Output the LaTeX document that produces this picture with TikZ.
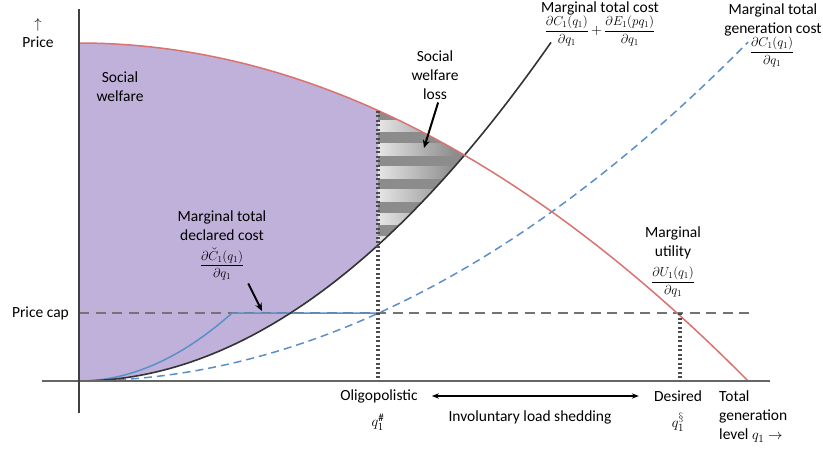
\documentclass[tikz,border=0pt]{standalone}
\usepackage{amsmath}
\usepackage{graphicx}
\usepackage{fontspec}
\setmainfont{Carlito}
\usetikzlibrary{arrows.meta}

\DeclareMathSizes{13.5}{13.5}{10}{8}
\DeclareMathSizes{15.5}{15.5}{11}{8}

\definecolor{welfare}{RGB}{191,177,218}
\definecolor{utility}{RGB}{218,114,112}
\definecolor{gencost}{RGB}{91,143,201}
\definecolor{axisgray}{RGB}{64,64,64}

\newcommand{\pfrac}[2]{\scalebox{0.9}{$\dfrac{\partial #1}{\partial #2}$}}

\tikzset{
    lbl/.style={align=center, inner sep=0pt, font=\fontsize{15.5}{19}\selectfont},
    fracbl/.style={inner sep=0pt, font=\fontsize{13.5}{15}\selectfont},
    pointer/.style={-{Stealth[length=8pt,width=7pt]}, line width=2pt, black},
    vdots/.style={line width=3.5pt, black!70, dash pattern=on 2pt off 2.5pt},
    capline/.style={line width=1.5pt, black!55, dash pattern=on 10pt off 6.5pt},
}

\begin{document}
\begin{tikzpicture}[x=1pt, y=-1pt]
    \useasboundingbox (0,0) rectangle (823,451);

    % Curves, in pixels of the slide: y(x) = y0 +- k*((x-79)/100)^2
    \def\ku{7.55}   % marginal utility
    \def\kg{7.57}   % marginal generation cost
    \def\kt{15.2}   % marginal total cost
    \def\kd{29}     % marginal declared cost
    \def\xh{378}    % oligopolistic q
    \def\xs{464.5}  % crossing utility / total cost
    \def\xd{680}    % desired q
    \def\ycap{313}  % price cap

    % Social welfare
    \fill[welfare] plot[domain=79:\xh, samples=60] (\x, {381-\kt*((\x-79)/100)^2})
        -- plot[domain=\xh:79, samples=60] (\x, {43+\ku*((\x-79)/100)^2}) -- cycle;

    % Social welfare loss (stripes)
    \begin{scope}
        \clip plot[domain=\xh:\xs, samples=30] (\x, {381-\kt*((\x-79)/100)^2})
            -- plot[domain=\xs:\xh, samples=30] (\x, {43+\ku*((\x-79)/100)^2}) -- cycle;
        \fill[black!45] (\xh,100) rectangle (470,250);
        \foreach \y in {120,143.3,...,240}
            \shade[left color=white!90!black, right color=black!45] (\xh,\y) rectangle (455,\y+11.7);
    \end{scope}

    % Price cap
    \draw[capline] (79,\ycap) -- (750,\ycap);

    % Marginal generation cost
    \draw[gencost, line width=1.5pt, dash pattern=on 8pt off 5pt]
        plot[domain=79:748, samples=80] (\x, {381-\kg*((\x-79)/100)^2});
    % Marginal declared cost
    \draw[gencost, line width=1.5pt] plot[domain=79:232, samples=40] (\x, {381-\kd*((\x-79)/100)^2})
        -- (\xh,\ycap);
    % Marginal total cost
    \draw[black!80, line width=1.6pt] plot[domain=79:551, samples=80] (\x, {381-\kt*((\x-79)/100)^2});
    % Marginal utility
    \draw[utility, line width=1.5pt] plot[domain=79:748, samples=80] (\x, {43+\ku*((\x-79)/100)^2});

    % Quantities
    \draw[vdots] (\xh,{43+\ku*((\xh-79)/100)^2}) -- (\xh,381);
    \draw[vdots] (\xd,\ycap) -- (\xd,381);

    % Axes
    \draw[axisgray!80, line width=1.2pt] (42,381) -- (770,381);
    \draw[axisgray, line width=1.5pt] (79,9) -- (79,413);

    % Labels
    \node[lbl] (price) at (38,33) {$\uparrow$\\Price};
    \node[lbl, anchor=east] (pricecap) at (69,313) {Price cap};
    \node[lbl] (welfare) at (120,87) {Social\\welfare};
    \node[lbl] (loss) at (435,75) {Social\\welfare\\loss};

    \node[lbl] (totcost) at (600,8) {Marginal total cost};
    \node[fracbl] (totfrac) at (600,31) {\pfrac{C_1(q_1)}{q_1}\,$+$\,\pfrac{E_1(pq_1)}{q_1}};
    \node[lbl] (gencost) at (773,20) {Marginal total\\generation cost};
    \node[fracbl] (genfrac) at (772,52) {\pfrac{C_1(q_1)}{q_1}};
    \node[lbl] (declcost) at (222,226) {Marginal total\\declared cost};
    \node[fracbl] (declfrac) at (222,264) {\pfrac{\breve{C}_1(q_1)}{q_1}};
    \node[lbl] (utility) at (673,243) {Marginal\\utility};
    \node[fracbl] (utilfrac) at (673,282) {\pfrac{U_1(q_1)}{q_1}};

    \node[lbl] (oligo) at (379,396) {Oligopolistic};
    \node[lbl] (qoligo) at (378,422) {$q_1^{\#}$};
    \node[lbl] (desired) at (678,396) {Desired};
    \node[lbl] (qdesired) at (678,422) {$q_1^{\S}$};
    \node[lbl] (shedding) at (530,417) {Involuntary load shedding};
    \node[lbl, align=left, anchor=west] (qlevel) at (719,417) {Total\\generation\\level $q_1\rightarrow$};

    % Pointers
    \coordinate (lossmark) at (424,148);
    \coordinate (capmark) at (262,311);
    \draw[pointer, shorten <=3pt] ([xshift=4pt]loss.south) -- (lossmark);
    \draw[pointer] ([shift={(4pt,-3pt)}]declfrac.south east) -- (capmark);
    \draw[{Stealth[length=7pt]}-{Stealth[length=7pt]}, line width=1.2pt, shorten <=14pt, shorten >=15pt]
        (oligo.east) -- (desired.west);

\end{tikzpicture}
\end{document}
